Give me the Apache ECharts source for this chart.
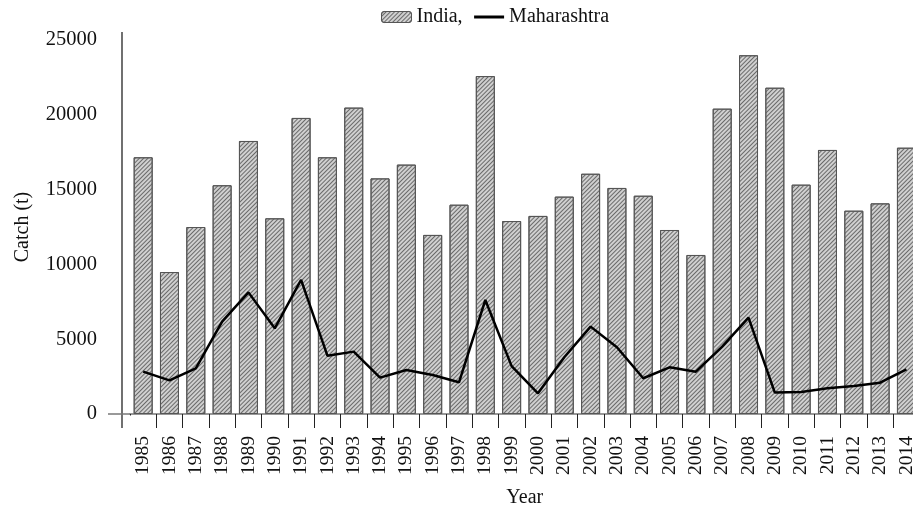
<!DOCTYPE html>
<html>
<head>
<meta charset="utf-8">
<script src="https://cdn.jsdelivr.net/npm/echarts@6/dist/echarts.min.js"></script>
<style>
  html, body { margin: 0; padding: 0; background: #fff; }
  #catchChart { width: 913px; height: 506px; }
</style>
</head>
<body>
<div id="catchChart"></div>
<script>
// 年份
var years = ['1985', '1986', '1987', '1988', '1989', '1990', '1991', '1992', '1993', '1994',
  '1995', '1996', '1997', '1998', '1999', '2000', '2001', '2002', '2003', '2004',
  '2005', '2006', '2007', '2008', '2009', '2010', '2011', '2012', '2013', '2014'];
// India - 柱状
var indiaCatch = [17160, 9490, 12500, 15290, 18250, 13080, 19790, 17160, 20480, 15750,
  16670, 11970, 13990, 22590, 12900, 13240, 14530, 16060, 15110, 14590,
  12300, 10630, 20410, 23980, 21810, 15330, 17650, 13590, 14080, 17800];
// Maharashtra - 折线
var maharashtraCatch = [2830, 2250, 3050, 6170, 8130, 5730, 8960, 3900, 4170, 2430,
  2940, 2610, 2120, 7620, 3200, 1380, 3790, 5840, 4460, 2390,
  3120, 2830, 4500, 6440, 1430, 1470, 1720, 1870, 2090, 2990];
// y轴刻度
var yTicks = [0, 5000, 10000, 15000, 20000, 25000];

var serif = 'Liberation Serif, Times New Roman, serif';
var gridLeft = 130, gridTop = 40, gridHeight = 374;
// 斜线填充
var hatch = { symbol: 'rect', symbolSize: 1, dashArrayX: [1, 0], dashArrayY: [1, 1.8], rotation: -Math.PI / 4, color: '#6a6a6a' };

var chart = echarts.init(document.getElementById('catchChart'));
chart.setOption({
  backgroundColor: '#fff',
  animation: false,
  textStyle: { fontFamily: serif },
  legend: {
    top: 2,
    left: 376,
    itemWidth: 30,
    itemHeight: 11,
    itemGap: 10,
    textStyle: { fontFamily: serif, fontSize: 20, color: '#111' },
    data: [
      { name: 'India,', itemStyle: { color: '#d0d0d0', borderColor: '#555', borderWidth: 1, decal: hatch } },
      { name: 'Maharashtra', itemStyle: { opacity: 0 }, lineStyle: { color: '#000', width: 3 } }
    ]
  },
  grid: { left: gridLeft, top: gridTop, width: 30 * 26.32, height: gridHeight, outerBoundsMode: 'none' },
  xAxis: {
    type: 'category',
    data: years,
    name: 'Year',
    nameLocation: 'middle',
    nameGap: 74,
    nameTextStyle: { fontFamily: serif, fontSize: 20, color: '#111' },
    axisLine: { lineStyle: { color: '#777', width: 1.5 } },
    axisTick: {
      show: true,
      length: 14,
      lineStyle: { color: '#222', width: 1 },
      interval: 0
    },
    axisLabel: { interval: 0, rotate: 90, margin: 22, fontFamily: serif, fontSize: 19.5, color: '#111' }
  },
  yAxis: {
    type: 'value',
    min: 0,
    max: 25000,
    interval: 5000,
    name: 'Catch (t)',
    nameLocation: 'middle',
    nameGap: 97,
    nameRotate: 90,
    nameTextStyle: { fontFamily: serif, fontSize: 20, color: '#111' },
    axisLine: { show: false },
    axisTick: { show: false },
    splitLine: { show: false },
    axisLabel: {
      margin: 33,
      fontFamily: serif, fontSize: 20.5, color: '#111',
      formatter: function (v) { return yTicks.indexOf(v) > -1 ? String(v) : ''; }
    }
  },
  graphic: [
    // 第一个刻度由y轴延长线代替，遮住
    { type: 'line', z: 100, shape: { x1: gridLeft, y1: gridTop + gridHeight + 1.5, x2: gridLeft, y2: gridTop + gridHeight + 16 },
      style: { stroke: '#fff', lineWidth: 3 } },
    // y轴线（向上、向下略微延长）
    { type: 'line', z: 100, shape: { x1: gridLeft - 8, y1: gridTop - 8, x2: gridLeft - 8, y2: gridTop + gridHeight + 14 },
      style: { stroke: '#111', lineWidth: 1.2 } },
    // x轴线向左延长
    { type: 'line', z: 100, shape: { x1: gridLeft - 22, y1: gridTop + gridHeight, x2: gridLeft, y2: gridTop + gridHeight },
      style: { stroke: '#777', lineWidth: 1.5 } }
  ],
  series: [
    {
      name: 'India,',
      type: 'bar',
      data: indiaCatch,
      barWidth: 19,
      itemStyle: { color: '#d0d0d0', borderColor: '#555', borderWidth: 1, decal: hatch }
    },
    {
      name: 'Maharashtra',
      type: 'line',
      data: maharashtraCatch,
      symbol: 'none',
      lineStyle: { color: '#000', width: 2.5 },
      itemStyle: { color: '#000' }
    }
  ]
});
</script>
</body>
</html>
